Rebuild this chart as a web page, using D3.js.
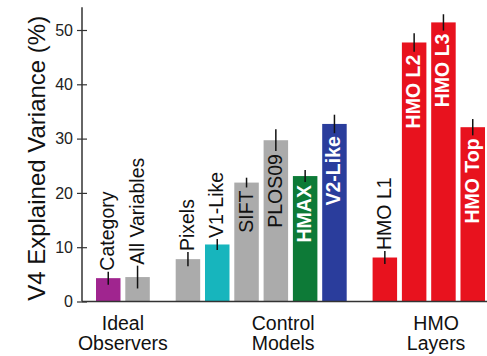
<!DOCTYPE html>
<html>
<head>
<meta charset="utf-8">
<script src="https://cdn.jsdelivr.net/npm/d3@7"></script>
<style>
  body { margin: 0; background: #fff; }
  svg { display: block; font-family: "Liberation Sans", Arial, sans-serif; }
</style>
</head>
<body>
<svg width="487" height="356"></svg>
<script>
const labels = ["Category", "All Variables", "Pixels", "V1-Like", "SIFT", "PLOS09", "HMAX", "V2-Like", "HMO L1", "HMO L2", "HMO L3", "HMO Top"];
const values = [4.3, 4.5, 7.8, 10.5, 21.9, 29.7, 23.1, 32.7, 8.1, 47.7, 51.4, 32.1];
const errors = [1.2, 2.1, 1.3, 1.0, 0.9, 2.0, 1.1, 1.7, 1.2, 1.7, 1.5, 1.5];
const groups = [0, 0, 1, 1, 1, 1, 1, 1, 2, 2, 2, 2];
const groupNames = [["Ideal", "Observers"], ["Control", "Models"], ["HMO", "Layers"]];
const yTicks = [0, 10, 20, 30, 40, 50];

const colors = ["#a0258f", "#ababab", "#ababab", "#17b5bd", "#ababab", "#ababab", "#0d7a37", "#2a3d9c", "#e8121e", "#e8121e", "#e8121e", "#e8121e"];
// labels drawn inside the bar (white bold unless on gray)
const inside = [false, false, false, false, true, true, true, true, false, true, true, true];

const svg = d3.select("svg");
const groupGap = 0.72;
const barW = 24.5;

const slot = i => i + groups[i] * groupGap;
const x = d3.scaleLinear().domain([0, 1]).range([96, 125.3]);
const y = d3.scaleLinear().domain([0, 50]).range([301.5, 30]);

// bars
svg.append("g").selectAll("rect")
    .data(values)
    .join("rect")
    .attr("x", (d, i) => x(slot(i)))
    .attr("width", barW)
    .attr("y", d => y(d))
    .attr("height", d => y(0) - y(d))
    .attr("fill", (d, i) => colors[i]);

// error bars
svg.append("g").selectAll("line")
    .data(values)
    .join("line")
    .attr("x1", (d, i) => x(slot(i)) + barW / 2)
    .attr("x2", (d, i) => x(slot(i)) + barW / 2)
    .attr("y1", (d, i) => y(d + errors[i]))
    .attr("y2", (d, i) => y(d - errors[i]))
    .attr("stroke", "#111")
    .attr("stroke-width", 1.5);

// bar labels
svg.append("g").selectAll("text")
    .data(labels)
    .join("text")
    .attr("transform", (d, i) => {
        const cx = x(slot(i)) + barW / 2;
        const ty = inside[i] ? y(values[i] - errors[i]) + 3 : y(values[i] + errors[i]) - 1;
        return `translate(${cx + 6},${ty}) rotate(-90)`;
    })
    .attr("text-anchor", (d, i) => inside[i] ? "end" : "start")
    .attr("font-size", "19.5px")
    .attr("font-weight", (d, i) => inside[i] && colors[i] !== "#ababab" ? "bold" : "normal")
    .attr("fill", (d, i) => inside[i] && colors[i] !== "#ababab" ? "#fff" : "#111")
    .text(d => d);

// y axis
const yAxis = svg.append("g")
    .attr("transform", "translate(82,0)")
    .call(d3.axisLeft(y).tickValues(yTicks).tickSize(5).tickPadding(4));
yAxis.select(".domain").attr("d", `M0,${y(54.2)}V${y(0)}`).attr("stroke", "#333").attr("stroke-width", 1.5);
yAxis.selectAll(".tick line").attr("x1", 5).attr("x2", -5).attr("stroke", "#333").attr("stroke-width", 1.2);
yAxis.selectAll(".tick text")
    .attr("font-size", "16px")
    .attr("font-family", "Liberation Sans, Arial, sans-serif")
    .attr("fill", "#222");

// x baseline
svg.append("line")
    .attr("x1", 82).attr("x2", 487)
    .attr("y1", y(0)).attr("y2", y(0))
    .attr("stroke", "#333")
    .attr("stroke-width", 1.5);

// y title
svg.append("text")
    .attr("transform", `translate(45,${(y(54.2) + y(0)) / 2 + 4}) rotate(-90)`)
    .attr("text-anchor", "middle")
    .attr("font-size", "24px")
    .attr("fill", "#111")
    .text("V4 Explained Variance (%)");

// group labels, centred at a (fractional) bar index
const groupCenter = [0.5, 5.25, 9.75];
groupNames.forEach((lines, g) => {
    lines.forEach((ln, k) => {
        svg.append("text")
            .attr("text-anchor", "middle")
            .attr("font-size", "19.5px")
            .attr("fill", "#111")
            .attr("x", x(groupCenter[g] + g * groupGap) + barW / 2)
            .attr("y", 330 + k * 20)
            .text(ln);
    });
});
</script>
</body>
</html>
